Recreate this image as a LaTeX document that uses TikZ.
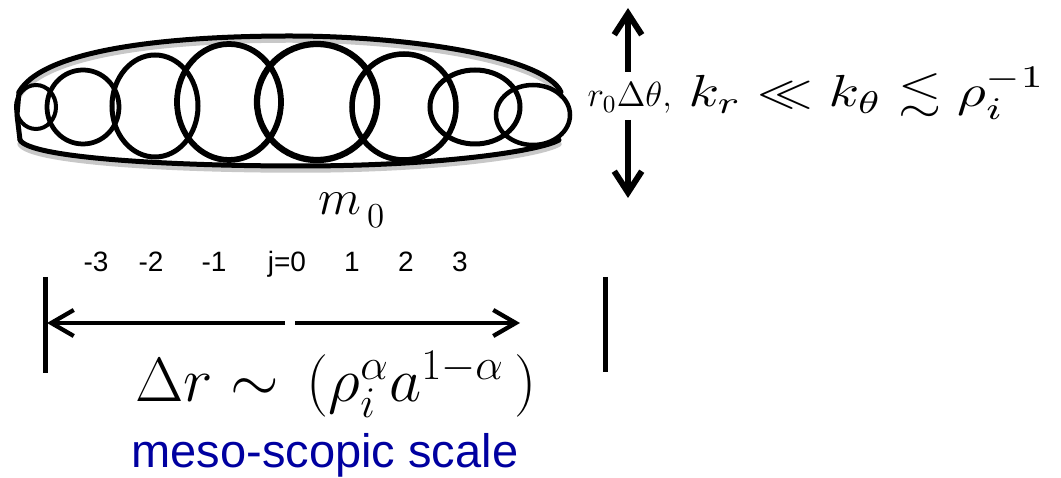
\RequirePackage{fix-cm}
\documentclass[tikz,border=0pt]{standalone}
\usepackage{amssymb}
\usepackage{graphicx}
\usepackage{fontspec}
\newfontfamily\arialfont{Liberation Sans}
\usetikzlibrary{arrows.meta}
\definecolor{mesoblue}{RGB}{0,0,160}
\definecolor{shadegray}{RGB}{200,200,200}

\begin{document}
\begin{tikzpicture}[x=0.4pt, y=-0.4pt,
  hull/.style={line width=2pt, line cap=round},
  hullshade/.style={line width=2.2pt, draw=shadegray, line cap=round},
  bar/.style={line width=2pt},
  varr/.style={line width=2.4pt, -{Straight Barb[length=8.5pt,width=11pt]}},
  harr/.style={line width=1.7pt, -{Straight Barb[length=9pt,width=10.4pt]}},
  idx/.style={anchor=base, inner sep=0pt, font=\arialfont\fontsize{11.2}{13}\selectfont},
  lbl/.style={anchor=base west, inner sep=0pt}
]
\useasboundingbox (0,0) rectangle (1061,478);

% shadow of the envelope
\draw[hullshade, yshift=-1.6pt] (19,92) .. controls (45,47) and (180,36) .. (290,36) .. controls (410,36) and (545,57) .. (561,92);
\draw[hullshade, yshift=-1.6pt] (20,140) .. controls (30,158) and (170,166) .. (300,166) .. controls (440,166) and (540,151) .. (559,140);

% envelope of the mode
\draw[hull] (19,92) .. controls (45,47) and (180,36) .. (290,36) .. controls (410,36) and (545,57) .. (561,92);
\draw[hull] (20,140) .. controls (30,158) and (170,166) .. (300,166) .. controls (440,166) and (540,151) .. (559,140);
\draw[hull] (19,92) -- (17,115) -- (20,140);

% radial cells j=-3..3
\foreach \cx/\cy/\rx/\ry/\lw in {36/107/20/22/1.6, 83/107/36/37/1.9, 155/106/43/51/2,
    229/102/52/58/2.3, 317/102/60/58/2.5, 404/107/52/53/2.2, 475/107/45/37/2, 533/115/37/30/1.8}
  \draw[line width=\lw pt] (\cx,\cy) ellipse [x radius=\rx, y radius=\ry];

% poloidal width
\coordinate (upfoot) at (628,72);
\coordinate (uptip) at (628,8);
\coordinate (dnfoot) at (628,120);
\coordinate (dntip) at (628,198);
\draw[varr] (upfoot) -- (uptip);
\draw[varr] (dnfoot) -- (dntip);

\node[lbl, font=\fontsize{14}{16}\selectfont] (width) at (587,107) {$r_0\Delta\theta,$};
\node[lbl] (kcond) at (688,107)
  {\resizebox*{142.8pt}{20.8pt}{$k_r \ll k_\theta \lesssim \rho_i^{-1}$}};
\node[lbl, font=\fontsize{20}{24}\selectfont] (mode) at (318,215) {$m^{}_{\,0}$};

% cell index
\foreach \x/\t [count=\i] in {96/-3, 151/-2, 214/-1, 287/j=0, 352/1, 406/2, 460/3}
  \node[idx] (j\i) at (\x,272) {\t};

% radial extent
\coordinate (lfoot) at (285,323);
\coordinate (ltip) at (47,323);
\coordinate (rfoot) at (295,323);
\coordinate (rtip) at (520,323);
\draw[bar] (45,277) -- (45,373);
\draw[bar] (605,277) -- (605,372);
\draw[harr] (lfoot) -- (ltip);
\draw[harr] (rfoot) -- (rtip);

\node[lbl, font=\fontsize{25}{29}\selectfont] (dr) at (135,402)
  {$\Delta r \sim \,(\rho_i^{\alpha} a^{1-\alpha}\,)$};
\node[anchor=base, inner sep=0pt, font=\arialfont\fontsize{18.8}{22}\selectfont,
  text=mesoblue] (meso) at (325,468) {meso-scopic scale};
\end{tikzpicture}
\end{document}
